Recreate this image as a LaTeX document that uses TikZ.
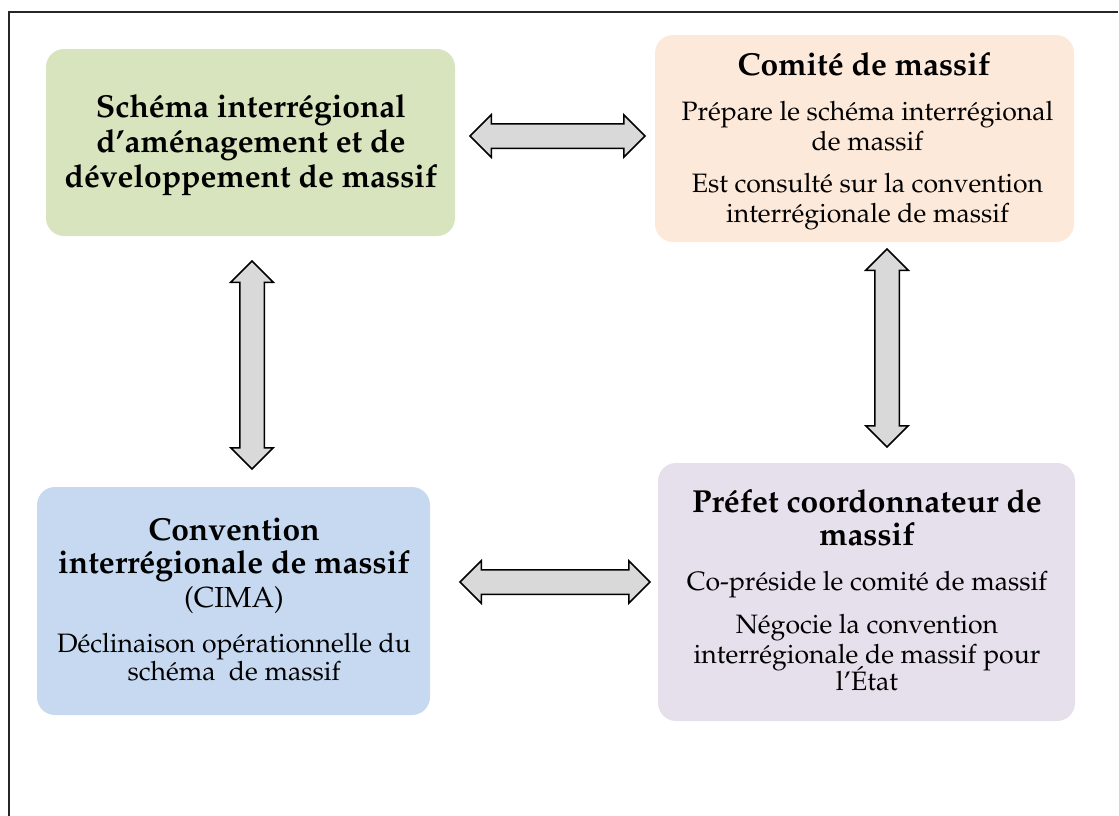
\documentclass[tikz,border=0pt]{standalone}
\usepackage[T1]{fontenc}
\usepackage{mathpazo}
\usetikzlibrary{shapes.arrows}
\definecolor{cgreen}{RGB}{215,228,189}
\definecolor{corange}{RGB}{253,233,217}
\definecolor{cblue}{RGB}{198,217,240}
\definecolor{cpurple}{RGB}{229,224,236}
\definecolor{carrow}{RGB}{217,217,217}
\tikzset{
  box/.style={rounded corners=18pt, inner sep=0pt, draw=none},
  ttl/.style={anchor=base, inner sep=0pt, font=\fontsize{31.8}{35}\selectfont\bfseries},
  bdy/.style={anchor=base, inner sep=0pt, font=\fontsize{26.6}{30}\selectfont},
  dbl/.style={shape=double arrow, draw=black, line width=1.5pt, fill=carrow,
    inner xsep=0pt, inner ysep=11.5pt, double arrow head extend=9pt,
    double arrow tip angle=90},
  frameline/.style={draw=black!85, line width=1.6pt}
}
\begin{document}
\begin{tikzpicture}[x=1pt,y=-1pt]
\useasboundingbox (0,0) rectangle (1119,815);
% frame (top and left sides)
\coordinate (fbl) at (9,816);
\coordinate (ftl) at (9,12);
\coordinate (ftr) at (1118,12);
\draw[frameline] (fbl) -- (ftl) -- (ftr);
% boxes
\node[box, fill=cgreen, minimum width=409pt, minimum height=187pt] (gbox) at (250.5,142.5) {};
\node[box, fill=corange, minimum width=419pt, minimum height=207pt] (obox) at (864.5,138.5) {};
\node[box, fill=cblue, minimum width=393pt, minimum height=228pt] (bbox) at (233.5,601) {};
\node[box, fill=cpurple, minimum width=417pt, minimum height=258pt] (pbox) at (866.5,592) {};
% green text
\node[ttl] (g1) at (251,117) {Schéma interrégional};
\node[ttl] (g2) at (251,152) {d'aménagement et de};
\node[ttl] (g3) at (251,187) {développement de massif};
% orange text
\node[ttl] (o1) at (864,75) {Comité de massif};
\node[bdy] (o2) at (867.5,120) {Prépare le schéma interrégional};
\node[bdy] (o3) at (867.5,150) {de massif};
\node[bdy] (o4) at (867.5,192) {Est consulté sur la convention};
\node[bdy] (o5) at (867.5,222) {interrégionale de massif};
% blue text
\node[ttl] (b1) at (234,540) {Convention};
\node[ttl] (b2) at (234,573) {interrégionale de massif};
\node[bdy, font=\fontsize{29}{33}\selectfont] (b3) at (234,607) {(CIMA)};
\node[bdy] (b4) at (234,652) {Déclinaison opérationnelle du};
\node[bdy] (b5) at (234,680) {schéma\ \ de massif};
% purple text
\node[ttl] (p1) at (867,512) {Préfet coordonnateur de};
\node[ttl] (p2) at (867,545) {massif};
\node[bdy] (p3) at (867,590) {Co-préside le comité de massif};
\node[bdy] (p4) at (867,633) {Négocie la convention};
\node[bdy] (p5) at (867,663) {interrégionale de massif pour};
\node[bdy] (p6) at (867,690) {l'État};
% double arrows
\node[dbl, minimum height=175pt] (a1) at (557.5,136) {};
\node[dbl, minimum height=190pt] (a2) at (555,582) {};
\node[dbl, minimum height=208pt, rotate=90] (a3) at (252,365) {};
\node[dbl, minimum height=198pt, rotate=90] (a4) at (887,348) {};
\end{tikzpicture}
\end{document}
